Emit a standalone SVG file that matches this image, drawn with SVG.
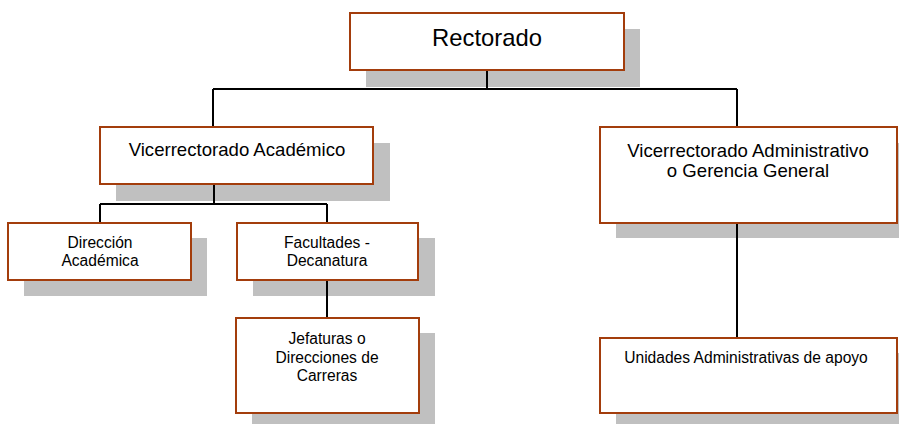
<svg xmlns="http://www.w3.org/2000/svg" width="899" height="424" viewBox="0 0 899 424">
<style>
.sh{fill:#c0c0c0}
.bx{fill:#ffffff;stroke:#a33d0c;stroke-width:2}
.ln{fill:none;stroke:#000000;stroke-width:2}
text{font-family:"Liberation Sans",Arial,sans-serif;fill:#000000;text-anchor:middle}
.t1{font-size:23.8px}
.t2{font-size:18.6px}
.t3{font-size:15.6px}
</style>
<rect width="899" height="424" fill="#ffffff"/>
<g id="rectorado">
<rect class="sh" x="366" y="29" width="274" height="58"/>
<rect class="bx" x="350" y="13" width="274" height="57"/>
<text class="t1" x="487" y="46">Rectorado</text>
</g>
<g id="vic-academico">
<rect class="sh" x="116" y="143" width="274" height="58"/>
<rect class="bx" x="100" y="127" width="273" height="57"/>
<text class="t2" x="237" y="156">Vicerrectorado Académico</text>
</g>
<g id="vic-administrativo">
<rect class="sh" x="616" y="143" width="283" height="95"/>
<rect class="bx" x="600" y="127" width="297" height="96"/>
<text class="t2" x="748" y="157">Vicerrectorado Administrativo</text>
<text class="t2" x="748" y="177">o Gerencia General</text>
</g>
<g id="direccion-academica">
<rect class="sh" x="24" y="238" width="183" height="58"/>
<rect class="bx" x="8" y="223" width="183" height="57"/>
<text class="t3" x="100" y="248">Dirección</text>
<text class="t3" x="100" y="266">Académica</text>
</g>
<g id="facultades">
<rect class="sh" x="253" y="238" width="182" height="58"/>
<rect class="bx" x="237" y="223" width="181" height="57"/>
<text class="t3" x="327" y="248">Facultades -</text>
<text class="t3" x="327" y="266">Decanatura</text>
</g>
<g id="jefaturas">
<rect class="sh" x="252" y="333" width="183" height="91"/>
<rect class="bx" x="236" y="318" width="183" height="95"/>
<text class="t3" x="327" y="344">Jefaturas o</text>
<text class="t3" x="327" y="363">Direcciones de</text>
<text class="t3" x="327" y="381">Carreras</text>
</g>
<g id="unidades">
<rect class="sh" x="616" y="353" width="283" height="71"/>
<rect class="bx" x="600" y="338" width="297" height="75"/>
<text class="t3" x="746" y="363">Unidades Administrativas de apoyo</text>
</g>
<g id="connectors">
<path class="ln" d="M487 71 V89 M213 89 H737 M213 89 V126 M737 89 V126"/>
<path class="ln" d="M214 185 V204 M100 204 H327 M100 204 V222 M327 204 V222"/>
<path class="ln" d="M327 281 V317"/>
<path class="ln" d="M737 224 V337"/>
</g>
</svg>
